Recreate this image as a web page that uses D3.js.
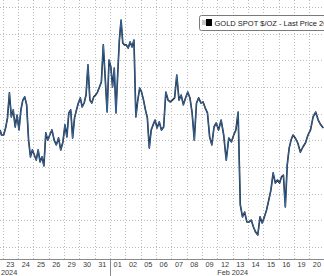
<!DOCTYPE html>
<html lang="en">
<head>
<meta charset="UTF-8">
<style>
  body { margin: 0; background: #fff; }
  svg { display: block; font-family: "Liberation Sans", Arial, sans-serif; }
</style>
</head>
<body>
<script src="https://cdnjs.cloudflare.com/ajax/libs/d3/7.8.5/d3.min.js"></script>
<script>
// trading days on the x axis
var dayLabels = ["23", "24", "25", "26", "29", "30", "31", "01", "02", "05", "06",
                 "07", "08", "09", "12", "13", "14", "15", "16", "19", "20"];
var monthLabels = [{ day: 0, text: "2024" }, { day: 14.5, text: "Feb 2024" }];
var priceTicks = [1980, 1990, 2000, 2010, 2020, 2030, 2040, 2050, 2060, 2070];

// intraday gold spot, $/oz (evenly spaced inside each day)
var lastOf22Jan = [2023.9, 2022.0];
var jan23 = [2022.0, 2024.6, 2028.4, 2037.8, 2028.8, 2031.4, 2025.0, 2029.5];
var jan24 = [2023.9, 2031.4, 2035.1, 2036.3, 2033.3, 2020.1, 2013.8, 2016.4];
var jan25 = [2014.5, 2012.6, 2016.4, 2011.9, 2013.8, 2010.4, 2022.8, 2020.1];
var jan26 = [2022.0, 2023.9, 2020.1, 2018.3, 2020.9, 2016.4, 2019.4];
var jan29 = [2025.8, 2021.3, 2030.3, 2031.4, 2020.9, 2028.4, 2031.4, 2034.0];
var jan30 = [2035.9, 2032.5, 2034.0, 2037.0, 2048.3, 2035.1, 2034.0, 2036.3];
var jan31 = [2037.0, 2038.1, 2040.0, 2041.9, 2055.8, 2043.4, 2030.6, 2050.1];
var feb01 = [2047.5, 2040.0, 2047.1, 2030.3, 2044.5, 2057.6, 2065.1, 2056.5, 2055.8];
var feb02 = [2055.8, 2054.6, 2056.9, 2055.0, 2057.6, 2028.8, 2035.1, 2039.6];
var feb05 = [2038.1, 2035.1, 2031.4, 2028.4, 2017.1, 2023.9, 2025.8, 2027.6];
var feb06 = [2024.6, 2026.9, 2023.9, 2025.0, 2038.1, 2035.1, 2034.4];
var feb07 = [2035.1, 2035.9, 2044.5, 2035.1, 2037.0, 2033.3, 2035.9];
var feb08 = [2038.1, 2035.9, 2030.3, 2020.1, 2034.0, 2035.9, 2034.0];
var feb09 = [2034.4, 2032.1, 2030.3, 2021.3, 2018.3, 2025.0, 2026.5];
var feb12 = [2023.9, 2027.6, 2022.0, 2012.6, 2020.9, 2019.4];
var feb13 = [2022.0, 2023.9, 2030.6, 1995.8, 1991.3, 1993.1, 1989.4];
var feb14 = [1989.4, 1990.1, 1987.5, 1985.6, 1984.5, 1991.3, 1989.0];
var feb15 = [1991.3, 1993.9, 1997.6, 2001.4, 2007.8, 2004.0, 2005.1];
var feb16 = [2004.0, 2006.3, 2007.0, 1995.0, 2010.8, 2017.1, 2020.1, 2022.0];
var feb19 = [2020.9, 2019.0, 2015.6, 2017.5, 2019.0, 2022.0];
var feb20 = [2023.9, 2028.8, 2030.6, 2027.6, 2025.8, 2024.6];

var days = [jan23, jan24, jan25, jan26, jan29, jan30, jan31, feb01, feb02, feb05, feb06,
            feb07, feb08, feb09, feb12, feb13, feb14, feb15, feb16, feb19, feb20];

var width = 324, height = 276;
var axisY = 259;

var svg = d3.select("body").append("svg")
    .attr("width", width)
    .attr("height", height);

var x = d3.scaleLinear().domain([0, 21]).range([2.7, 324.6]);
var y = d3.scaleLinear().domain([1980, 2070]).range([247, 7]);

// flatten day arrays into (t, price) points
var points = lastOf22Jan.map(function(v, j) { return { t: -0.17 + j * 0.09, v: v }; });
days.forEach(function(arr, i) {
    arr.forEach(function(v, j) {
        points.push({ t: i + (j + 0.5) / arr.length, v: v });
    });
});

// horizontal grid
svg.append("g").selectAll("line")
    .data(priceTicks)
    .enter().append("line")
    .attr("x1", 0).attr("x2", width)
    .attr("y1", function(d) { return Math.round(y(d)) + 0.5; })
    .attr("y2", function(d) { return Math.round(y(d)) + 0.5; })
    .attr("stroke", "#bdbdbd")
    .attr("stroke-dasharray", "1,2");

// vertical grid at day boundaries
svg.append("g").selectAll("line")
    .data(d3.range(0, 22))
    .enter().append("line")
    .attr("x1", function(d) { return Math.round(x(d)) + 0.5; })
    .attr("x2", function(d) { return Math.round(x(d)) + 0.5; })
    .attr("y1", 0).attr("y2", axisY)
    .attr("stroke", "#bdbdbd")
    .attr("stroke-dasharray", "1,2");

// price line: dark body with a thin blue core
var line = d3.line()
    .x(function(d) { return x(d.t); })
    .y(function(d) { return y(d.v); });

svg.append("path")
    .datum(points)
    .attr("fill", "none")
    .attr("stroke", "#0f1828")
    .attr("stroke-width", 1.6)
    .attr("stroke-linejoin", "round")
    .attr("d", line);

svg.append("path")
    .datum(points)
    .attr("fill", "none")
    .attr("stroke", "#4b93de")
    .attr("stroke-width", 0.6)
    .attr("stroke-linejoin", "round")
    .attr("d", line);

// x axis
svg.append("line")
    .attr("x1", 0).attr("x2", width)
    .attr("y1", axisY + 0.5).attr("y2", axisY + 0.5)
    .attr("stroke", "#8a8a8a");

// month separator
svg.append("line")
    .attr("x1", Math.round(x(7)) + 0.5).attr("x2", Math.round(x(7)) + 0.5)
    .attr("y1", axisY).attr("y2", height)
    .attr("stroke", "#8a8a8a");

svg.append("g").selectAll("text")
    .data(dayLabels)
    .enter().append("text")
    .attr("x", function(d, i) { return x(i + 0.5); })
    .attr("y", 267)
    .attr("text-anchor", "middle")
    .attr("font-size", "7.3px")
    .attr("fill", "#3a3a3a")
    .text(function(d) { return d; });

svg.append("g").selectAll("text")
    .data(monthLabels)
    .enter().append("text")
    .attr("x", function(d) { return d.day === 0 ? 1 : x(d.day + 0.5); })
    .attr("y", 275)
    .attr("text-anchor", function(d) { return d.day === 0 ? "start" : "middle"; })
    .attr("font-size", "7.3px")
    .attr("fill", "#3a3a3a")
    .text(function(d) { return d.text; });

// legend (runs off the right edge, as in the original)
var legend = svg.append("g");
legend.append("rect")
    .attr("x", 199.5).attr("y", 15.5)
    .attr("width", 140).attr("height", 15)
    .attr("rx", 2)
    .attr("fill", "#fff")
    .attr("stroke", "#7a7a7a");
legend.append("rect")
    .attr("x", 202).attr("y", 20)
    .attr("width", 4).attr("height", 5)
    .attr("fill", "#c8c8c8");
legend.append("rect")
    .attr("x", 206).attr("y", 19)
    .attr("width", 6).attr("height", 7)
    .attr("fill", "#000");
legend.append("text")
    .attr("x", 214.5).attr("y", 26)
    .attr("font-size", "7.5px")
    .attr("fill", "#1a1a1a")
    .text("GOLD SPOT $/OZ - Last Price " + feb20[feb20.length - 1].toFixed(2));
</script>
</body>
</html>
